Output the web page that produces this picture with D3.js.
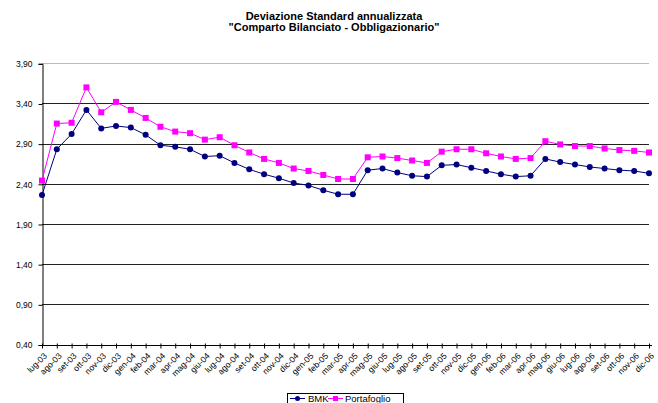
<!DOCTYPE html>
<html>
<head>
  <meta charset="utf-8">
  <title>Deviazione Standard</title>
  <script src="https://cdnjs.cloudflare.com/ajax/libs/d3/7.8.5/d3.min.js"></script>
  <style>
    body { margin: 0; background: #fff; }
    text { font-family: "Liberation Sans", Arial, sans-serif; }
  </style>
</head>
<body>
<div id="vis"></div>
<script>
var mesi = ["lug-03","ago-03","set-03","ott-03","nov-03","dic-03",
  "gen-04","feb-04","mar-04","apr-04","mag-04","giu-04","lug-04","ago-04","set-04","ott-04","nov-04","dic-04",
  "gen-05","feb-05","mar-05","apr-05","mag-05","giu-05","lug-05","ago-05","set-05","ott-05","nov-05","dic-05",
  "gen-06","feb-06","mar-06","apr-06","mag-06","giu-06","lug-06","ago-06","set-06","ott-06","nov-06","dic-06"];

var bmk = [2.26,2.83,3.02,3.32,3.09,3.12,
  3.10,3.01,2.88,2.86,2.83,2.74,2.75,2.66,2.58,2.52,2.47,2.41,
  2.38,2.32,2.27,2.27,2.57,2.59,2.54,2.50,2.49,2.63,2.64,2.60,
  2.56,2.52,2.49,2.50,2.71,2.67,2.64,2.61,2.59,2.57,2.56,2.53];

var portafoglio = [2.44,3.15,3.16,3.60,3.29,3.42,
  3.32,3.22,3.11,3.05,3.03,2.95,2.98,2.88,2.79,2.71,2.66,2.59,
  2.56,2.51,2.46,2.46,2.73,2.74,2.72,2.69,2.66,2.80,2.83,2.83,
  2.78,2.74,2.71,2.72,2.93,2.89,2.87,2.87,2.84,2.82,2.81,2.79];

var yTicks = [0.40,0.90,1.40,1.90,2.40,2.90,3.40,3.90];

var W = 658, H = 403;
var pLeft = 42, pRight = 649, pTop = 63.3, pBottom = 344.5;
var font = "'Liberation Sans', Arial, sans-serif";

var svg = d3.select("#vis").append("svg")
  .attr("width", W).attr("height", H);

var x = d3.scalePoint().domain(mesi).range([pLeft, pRight]);
var y = d3.scaleLinear().domain([0.40, 3.90]).range([pBottom, pTop]);

// titolo
svg.append("text").attr("x", 334).attr("y", 19.5).attr("text-anchor", "middle")
  .attr("font-size", 11).attr("font-weight", "bold")
  .text("Deviazione Standard annualizzata");
svg.append("text").attr("x", 334).attr("y", 31).attr("text-anchor", "middle")
  .attr("font-size", 11).attr("font-weight", "bold")
  .text("\"Comparto Bilanciato - Obbligazionario\"");

// griglia
svg.selectAll("line.grid").data(yTicks.slice(1)).enter().append("line")
  .attr("class", "grid")
  .attr("x1", pLeft).attr("x2", pRight)
  .attr("y1", function(d) { return Math.round(y(d)) + 0.5; })
  .attr("y2", function(d) { return Math.round(y(d)) + 0.5; })
  .attr("stroke", function(d) { return d === 3.90 ? "#bbb" : "#222"; })
  .attr("stroke-width", 1);

// asse y
var yAxis = d3.axisLeft(y).tickValues(yTicks).tickSize(4).tickPadding(6)
  .tickFormat(function(d) { return d3.format(".2f")(d).replace(".", ","); });
var gy = svg.append("g").attr("transform", "translate(" + (pLeft + 0.5) + ",0.5)").call(yAxis);
gy.select(".domain").attr("stroke", "#000");
gy.selectAll("line").attr("stroke", "#000");
gy.selectAll("text").attr("font-size", 8.5).attr("fill", "#000").style("font-family", font);

// asse x
var xAxis = d3.axisBottom(x).tickSize(3).tickSizeOuter(0).tickPadding(3);
var gx = svg.append("g").attr("transform", "translate(0," + (Math.round(pBottom) + 0.5) + ")").call(xAxis);
gx.select(".domain").attr("stroke", "#000").attr("d", "M" + pLeft + ",0H" + (pRight + 3));
gx.selectAll(".tick line").attr("stroke", "#000").attr("y1", -2);
gx.selectAll("text")
  .attr("font-size", 8.5).attr("fill", "#000")
  .style("font-family", font)
  .attr("text-anchor", "end")
  .attr("y", 0).attr("dy", "0")
  .attr("transform", "translate(5,11) rotate(-45)");

// serie
var linea = d3.line().x(function(d, i) { return x(mesi[i]); }).y(function(d) { return y(d); });

svg.append("path").datum(portafoglio).attr("d", linea)
  .attr("fill", "none").attr("stroke", "#ff00ff").attr("stroke-width", 1);
svg.selectAll("rect.pf").data(portafoglio).enter().append("rect")
  .attr("class", "pf")
  .attr("x", function(d, i) { return x(mesi[i]) - 3; })
  .attr("y", function(d) { return y(d) - 3; })
  .attr("width", 6).attr("height", 6)
  .attr("fill", "#ff00ff");

svg.append("path").datum(bmk).attr("d", linea)
  .attr("fill", "none").attr("stroke", "#000080").attr("stroke-width", 1);
svg.selectAll("circle.bmk").data(bmk).enter().append("circle")
  .attr("class", "bmk")
  .attr("cx", function(d, i) { return x(mesi[i]); })
  .attr("cy", function(d) { return y(d); })
  .attr("r", 3)
  .attr("fill", "#000080");

// legenda
var leg = svg.append("g");
leg.append("rect").attr("x", 287.5).attr("y", 393.5).attr("width", 116).attr("height", 14)
  .attr("fill", "#fff").attr("stroke", "#000");
leg.append("line").attr("x1", 290).attr("x2", 305).attr("y1", 398.5).attr("y2", 398.5)
  .attr("stroke", "#000080");
leg.append("circle").attr("cx", 297.5).attr("cy", 398.5).attr("r", 2.5).attr("fill", "#000080");
leg.append("text").attr("x", 308).attr("y", 402).attr("font-size", 9.5).text("BMK");
leg.append("line").attr("x1", 328).attr("x2", 343).attr("y1", 398.5).attr("y2", 398.5)
  .attr("stroke", "#ff00ff");
leg.append("rect").attr("x", 333).attr("y", 396).attr("width", 5).attr("height", 5).attr("fill", "#ff00ff");
leg.append("text").attr("x", 345).attr("y", 402).attr("font-size", 9.5).text("Portafoglio");
</script>
</body>
</html>
